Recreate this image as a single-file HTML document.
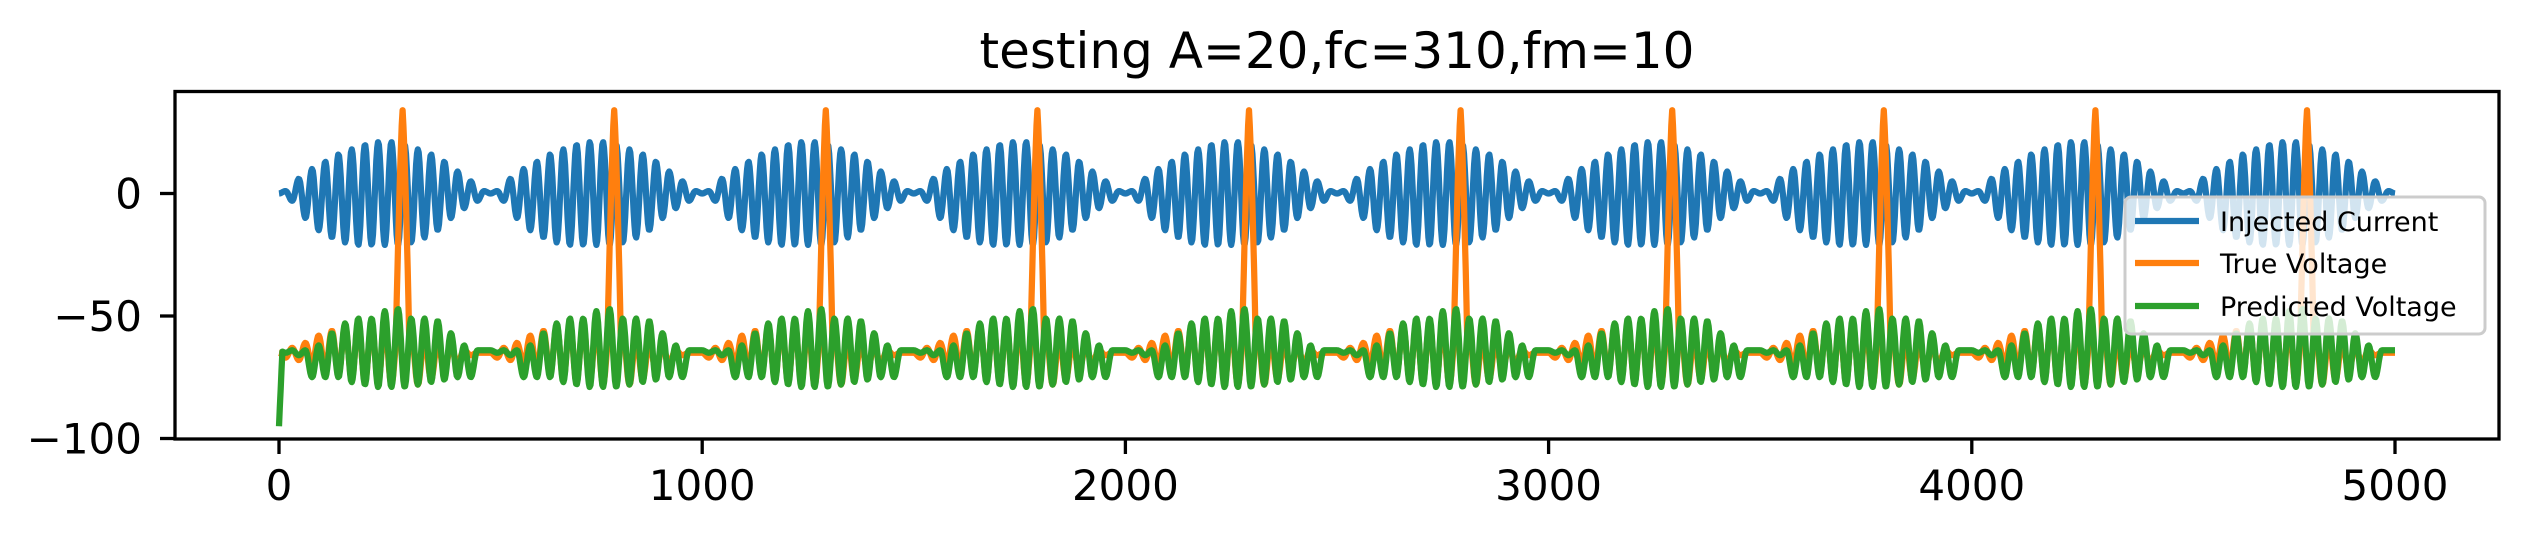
<!DOCTYPE html>
<html><head><meta charset="utf-8"><style>
html,body{margin:0;padding:0;background:#fff;}
svg{display:block;font-family:"DejaVu Sans","Liberation Sans",sans-serif;}
</style></head><body>
<svg id="chart" width="2528" height="540" viewBox="0 0 2528 540" xmlns="http://www.w3.org/2000/svg">
<text x="1337" y="68" font-size="50" text-anchor="middle">testing A=20,fc=310,fm=10</text>
<g id="plot"></g>
<rect x="175" y="91.5" width="2324" height="347.5" fill="none" stroke="#000" stroke-width="3.3"/>
<g id="ticks"></g>
<g>
<rect x="2125" y="197" width="360" height="137" rx="6" fill="#fff" fill-opacity="0.8" stroke="#cccccc" stroke-width="3"/>
<g><line x1="2135" y1="221" x2="2199" y2="221" stroke="#1f77b4" stroke-width="6.25"/><text x="2220" y="231" font-size="27">Injected Current</text></g>
<g><line x1="2135" y1="263" x2="2199" y2="263" stroke="#ff7f0e" stroke-width="6.25"/><text x="2220" y="273" font-size="27">True Voltage</text></g>
<g><line x1="2135" y1="306" x2="2199" y2="306" stroke="#2ca02c" stroke-width="6.25"/><text x="2220" y="316" font-size="27">Predicted Voltage</text></g>
</g>
</svg>
<script>
const xTicks = [0, 1000, 2000, 3000, 4000, 5000];
const yTicks = [0, -50, -100];
const yTickLabels = ["0", "\u221250", "\u2212100"];
const lobeLength = 500;
const lobeCount = 10;
const currentLobe = [0,1,-3,6,-10,10,-15,13,-18,16,-20,18,-21,20,-21,21,-21,21,-21,20,-20,18,-18,16,-15,13,-10,9,-6,5,-3,1];
const trueLobe = [-65,-67,-63,-68,-61,-70,-58,-72,-56,-74,-54,-76,-53,-77,-53,-77,-54,-78,-56,-80,-57,-78,-59,-76,-61,-72,-63,-69,-64,-66,-65,-65];
const predLobe = [-64,-65,-64,-66,-64,-75,-62,-75,-57,-75,-53,-77,-51,-78,-51,-79,-48,-79,-47,-79,-51,-78,-51,-77,-52,-76,-57,-75,-62,-75,-64,-64];
const spikeX = [292, 792, 1292, 1792, 2292, 2792, 3292, 3792, 4292, 4792];
const spikePeak = [34, 34, 34, 34, 34, 34, 34, 34, 34, 34];
const predStart = -95;

const X = v => 279 + v * 0.4232;
const Y = v => 193.5 - v * 2.45;
const NS = "http://www.w3.org/2000/svg";

function extremaSeries(lobe){
  const pts = [];
  const h = lobeLength / lobe.length;
  for (let k = 0; k < lobeCount; k++)
    for (let i = 0; i < lobe.length; i++) pts.push([k*lobeLength + i*h, lobe[i]]);
  pts.push([lobeCount*lobeLength, lobe[0]]);
  return pts;
}
function sample(pts, xv){
  for (let i = 0; i < pts.length-1; i++){
    if (xv >= pts[i][0] && xv <= pts[i+1][0]){
      const t = (xv - pts[i][0])/(pts[i+1][0]-pts[i][0]);
      const s = (1 - Math.cos(Math.PI*t))/2;
      return pts[i][1] + (pts[i+1][1]-pts[i][1])*s;
    }
  }
  return pts[pts.length-1][1];
}
function pathFrom(fn){
  let d = "";
  for (let xv = 0; xv <= 5000; xv += 2){
    d += (xv===0?"M":"L") + X(xv).toFixed(1) + "," + Y(fn(xv)).toFixed(1);
  }
  return d;
}
const plot = document.getElementById("plot");
function addLine(d, color, name){
  const p = document.createElementNS(NS, "path");
  p.setAttribute("d", d);
  p.setAttribute("fill", "none");
  p.setAttribute("stroke", color);
  p.setAttribute("stroke-width", "6.25");
  p.setAttribute("stroke-linejoin", "round");
  
  
  plot.appendChild(p);
}
const cur = extremaSeries(currentLobe);
const tru = extremaSeries(trueLobe);
const pred = extremaSeries(predLobe);
addLine(pathFrom(x => sample(cur, x)), "#1f77b4", "injected-current-line");
addLine(pathFrom(x => {
  let v = sample(tru, x);
  for (let i = 0; i < spikeX.length; i++){
    const dx = x - spikeX[i];
    if (Math.abs(dx) < 16){
      const s = spikePeak[i] - (spikePeak[i] + 60) * Math.pow(Math.abs(dx)/16, 1.3);
      if (s > v) v = s;
    }
  }
  return v;
}), "#ff7f0e", "true-voltage-line");
addLine(pathFrom(x => x < 8 ? predStart + (sample(pred, 8) - predStart) * (x/8) : sample(pred, x)), "#2ca02c", "predicted-voltage-line");

const ticks = document.getElementById("ticks");
xTicks.forEach(v => {
  const l = document.createElementNS(NS, "line");
  l.setAttribute("x1", X(v)); l.setAttribute("x2", X(v));
  l.setAttribute("y1", 439); l.setAttribute("y2", 454);
  l.setAttribute("stroke", "#000"); l.setAttribute("stroke-width", "3.3");
  
  
  ticks.appendChild(l);
  const t = document.createElementNS(NS, "text");
  t.setAttribute("x", X(v)); t.setAttribute("y", 500);
  t.setAttribute("font-size", "42"); t.setAttribute("text-anchor", "middle");
  t.textContent = String(v);
  
  
  ticks.appendChild(t);
});
yTicks.forEach((v, i) => {
  const l = document.createElementNS(NS, "line");
  l.setAttribute("x1", 160); l.setAttribute("x2", 175);
  l.setAttribute("y1", Y(v)); l.setAttribute("y2", Y(v));
  l.setAttribute("stroke", "#000"); l.setAttribute("stroke-width", "3.3");
  
  
  ticks.appendChild(l);
  const t = document.createElementNS(NS, "text");
  t.setAttribute("x", 142); t.setAttribute("y", Y(v) + 15);
  t.setAttribute("font-size", "42"); t.setAttribute("text-anchor", "end");
  t.textContent = yTickLabels[i];
  
  
  ticks.appendChild(t);
});
</script>
</body></html>
